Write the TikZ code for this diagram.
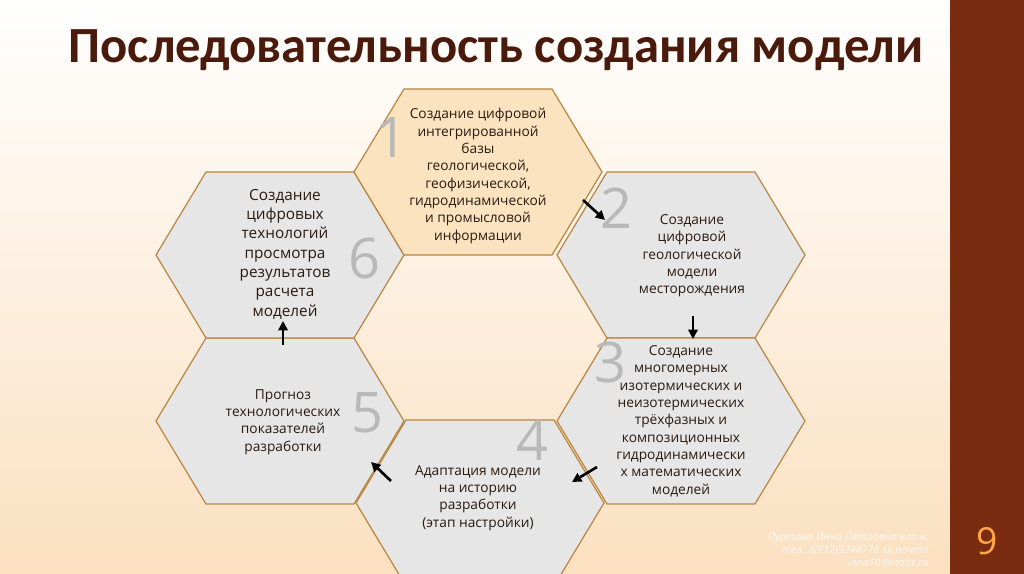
\documentclass[tikz,border=0pt]{standalone}
\usepackage{fontspec}
\setmainfont{Open Sans}
\newfontfamily\titlefont{Carlito}
\usetikzlibrary{calc,arrows.meta}
\definecolor{bgpeach}{HTML}{FBE0C0}
\definecolor{barbrown}{HTML}{7A2C10}
\definecolor{titlebrown}{HTML}{4A1A0C}
\definecolor{hexgray}{HTML}{E6E6E6}
\definecolor{hexpeach}{HTML}{FCE3C0}
\definecolor{hexline}{HTML}{B88540}
\definecolor{txt}{HTML}{2A1A10}
\tikzset{
  hexbox/.style={draw=hexline,line width=0.9pt},
  lbl/.style={align=center,font=\fontsize{10.3}{13}\selectfont,text=txt,inner sep=0pt},
  bignum/.style={font=\fontsize{42}{42}\selectfont,text=gray!55,inner sep=0pt},
  flow/.style={-{Triangle[length=7pt,width=7pt]},line width=2pt,black},
}
\newcommand\myhex[2]{%
  \draw[hexbox,fill=#2] ($(#1)+(-124,0)$) -- ($(#1)+(-74,-83)$) -- ($(#1)+(74,-83)$) -- ($(#1)+(124,0)$) -- ($(#1)+(74,83)$) -- ($(#1)+(-74,83)$) -- cycle;}
\begin{document}
\begin{tikzpicture}[x=0.75pt,y=-0.75pt]
\useasboundingbox (0,0) rectangle (1024,574);
\clip (0,0) rectangle (1024,574);
\shade[top color=white,bottom color=bgpeach] (0,0) rectangle (1024,574);
\fill[barbrown] (950,0) rectangle (1024,574);
\node[font=\titlefont\bfseries\fontsize{38}{38}\selectfont,text=titlebrown,anchor=west] (title) at (64,50) {Последовательность создания модели};
\coordinate (c1) at (478,172);
\coordinate (c2) at (681,255);
\coordinate (c3) at (681,421);
\coordinate (c4) at (480,503);
\coordinate (c5) at (280,421);
\coordinate (c6) at (280,255);
\myhex{c2}{hexgray}
\myhex{c3}{hexgray}
\myhex{c4}{hexgray}
\myhex{c5}{hexgray}
\myhex{c6}{hexgray}
\myhex{c1}{hexpeach}
\node[bignum] (n1) at (392,138) {1};
\node[bignum] (n2) at (617,208) {2};
\node[bignum] (n3) at (611,362) {3};
\node[bignum] (n4) at (533,440) {4};
\node[bignum] (n5) at (368,413) {5};
\node[bignum] (n6) at (365,258) {6};
\node[lbl] (t1) at (478,176) {Создание цифровой\\интегрированной\\базы\\геологической,\\геофизической,\\гидродинамической\\и промысловой\\информации};
\node[lbl] (t2) at (692,256) {Создание\\цифровой\\геологической\\модели\\месторождения};
\node[lbl] (t3) at (681,421) {Создание\\многомерных\\изотермических и\\неизотермических\\трёхфазных и\\композиционных\\гидродинамически\\х математических\\моделей};
\node[lbl] (t4) at (478,498) {Адаптация модели\\на историю\\разработки\\(этап настройки)};
\node[lbl] (t5) at (283,422) {Прогноз\\технологических\\показателей\\разработки};
\node[lbl,font=\fontsize{11.5}{14.5}\selectfont] (t6) at (285,254) {Создание\\цифровых\\технологий\\просмотра\\результатов\\расчета\\моделей};
\coordinate (a1s) at (583,200); \coordinate (a1e) at (605,220);
\coordinate (a2s) at (693,316); \coordinate (a2e) at (693,339);
\coordinate (a3s) at (597,467); \coordinate (a3e) at (572,482);
\coordinate (a4s) at (391,481); \coordinate (a4e) at (371,462);
\coordinate (a5s) at (283,345); \coordinate (a5e) at (283,321);
\draw[flow] (a1s) -- (a1e);
\draw[flow] (a2s) -- (a2e);
\draw[flow] (a3s) -- (a3e);
\draw[flow] (a4s) -- (a4e);
\draw[flow] (a5s) -- (a5e);
\node[align=right,anchor=north east,font=\itshape\fontsize{8}{9.5}\selectfont,text=white!85!bgpeach,inner sep=0pt] (foot) at (929,533) {Пуртова Инна Петровна к.т.н.\\тел. 8(912)9244778 эл.почта\\inna10@inbox.ru};
\node[font=\fontsize{28}{28}\selectfont,text=orange!70!white] (page) at (987,541) {9};
\end{tikzpicture}
\end{document}
